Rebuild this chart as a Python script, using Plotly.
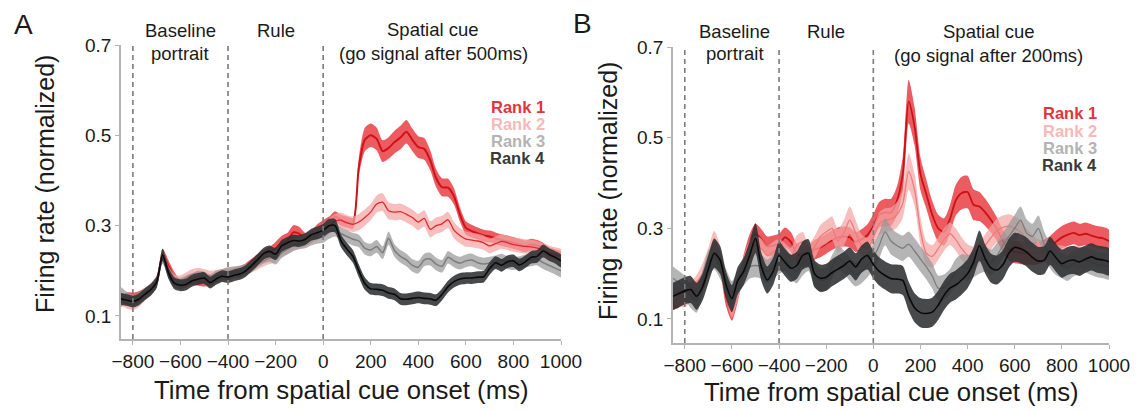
import plotly.graph_objects as go

FONT = "Liberation Sans, Arial, sans-serif"

# time axis (ms from spatial cue onset), 25 ms bins
time_ms = list(range(-850, 1001, 25))
x_ticks = [-800, -600, -400, -200, 0, 200, 400, 600, 800, 1000]
y_ticks = [0.1, 0.3, 0.5, 0.7]
y_ticktext = ["0.1", "0.3", "0.5", "0.7"]
epoch_bounds = [-800, -400, 0]
rank_names = ["Rank 1", "Rank 2", "Rank 3", "Rank 4"]

# ---------------- Panel A (go signal after 500 ms) ----------------
a_rank1 = [0.132, 0.140, 0.140, 0.143, 0.150, 0.160, 0.175, 0.235, 0.210, 0.185,
           0.170, 0.175, 0.180, 0.178, 0.176, 0.178, 0.185, 0.190, 0.190, 0.195,
           0.198, 0.205, 0.215, 0.225, 0.232, 0.240, 0.250, 0.262, 0.268, 0.285,
           0.282, 0.270, 0.275, 0.290, 0.300, 0.308, 0.320, 0.312, 0.308, 0.305,
           0.430, 0.490, 0.500, 0.492, 0.465, 0.472, 0.485, 0.495, 0.508, 0.490,
           0.474, 0.470, 0.445, 0.405, 0.385, 0.384, 0.365, 0.325, 0.295, 0.288,
           0.283, 0.278, 0.276, 0.272, 0.268, 0.265, 0.262, 0.258, 0.254, 0.258,
           0.256, 0.250, 0.240, 0.236, 0.232]
a_rank2 = [0.135, 0.128, 0.125, 0.132, 0.145, 0.160, 0.178, 0.232, 0.198, 0.180,
           0.178, 0.185, 0.192, 0.195, 0.192, 0.188, 0.190, 0.192, 0.194, 0.196,
           0.198, 0.202, 0.208, 0.215, 0.222, 0.228, 0.232, 0.245, 0.250, 0.258,
           0.262, 0.268, 0.275, 0.282, 0.290, 0.300, 0.310, 0.312, 0.306, 0.303,
           0.308, 0.318, 0.330, 0.348, 0.352, 0.333, 0.330, 0.331, 0.325, 0.318,
           0.308, 0.316, 0.292, 0.300, 0.304, 0.313, 0.290, 0.278, 0.270, 0.268,
           0.266, 0.262, 0.255, 0.260, 0.265, 0.262, 0.258, 0.256, 0.254, 0.253,
           0.250, 0.245, 0.240, 0.236, 0.232]
a_rank3 = [0.150, 0.140, 0.135, 0.140, 0.150, 0.160, 0.175, 0.228, 0.195, 0.175,
           0.172, 0.178, 0.183, 0.188, 0.186, 0.180, 0.188, 0.192, 0.196, 0.198,
           0.200, 0.203, 0.210, 0.220, 0.228, 0.232, 0.226, 0.240, 0.248, 0.256,
           0.260, 0.262, 0.268, 0.272, 0.275, 0.285, 0.290, 0.282, 0.276, 0.270,
           0.266, 0.250, 0.246, 0.254, 0.240, 0.272, 0.245, 0.232, 0.224, 0.212,
           0.208, 0.224, 0.226, 0.215, 0.210, 0.230, 0.222, 0.217, 0.222, 0.224,
           0.218, 0.215, 0.217, 0.220, 0.224, 0.218, 0.216, 0.218, 0.222, 0.224,
           0.226, 0.218, 0.212, 0.206, 0.200]
a_rank4 = [0.138, 0.135, 0.132, 0.137, 0.148, 0.158, 0.175, 0.235, 0.195, 0.172,
           0.168, 0.170, 0.178, 0.182, 0.184, 0.174, 0.182, 0.188, 0.186, 0.190,
           0.193, 0.200, 0.212, 0.225, 0.238, 0.243, 0.237, 0.255, 0.262, 0.267,
           0.266, 0.270, 0.280, 0.284, 0.290, 0.300, 0.300, 0.266, 0.248, 0.232,
           0.200, 0.172, 0.160, 0.159, 0.157, 0.151, 0.148, 0.138, 0.137, 0.139,
           0.141, 0.139, 0.138, 0.135, 0.148, 0.165, 0.176, 0.182, 0.184, 0.184,
           0.186, 0.187, 0.205, 0.218, 0.212, 0.220, 0.222, 0.213, 0.220, 0.230,
           0.232, 0.244, 0.236, 0.230, 0.222]

a_rank1_sem = [0.012, 0.012, 0.012, 0.012, 0.012, 0.012, 0.012, 0.014, 0.013, 0.012,
               0.011, 0.011, 0.011, 0.011, 0.011, 0.011, 0.011, 0.011, 0.011, 0.011,
               0.012, 0.012, 0.012, 0.012, 0.013, 0.013, 0.014, 0.015, 0.016, 0.016,
               0.015, 0.014, 0.013, 0.013, 0.012, 0.012, 0.012, 0.012, 0.012, 0.012,
               0.020, 0.026, 0.026, 0.025, 0.024, 0.024, 0.025, 0.026, 0.026, 0.025,
               0.024, 0.024, 0.022, 0.020, 0.020, 0.020, 0.018, 0.016, 0.015, 0.014,
               0.013, 0.013, 0.013, 0.013, 0.013, 0.013, 0.013, 0.013, 0.013, 0.013,
               0.012, 0.012, 0.012, 0.012, 0.012]
a_rank2_sem = [0.012, 0.012, 0.012, 0.012, 0.012, 0.012, 0.012, 0.013, 0.012, 0.012,
               0.012, 0.012, 0.012, 0.012, 0.012, 0.012, 0.012, 0.012, 0.012, 0.012,
               0.012, 0.012, 0.012, 0.012, 0.012, 0.013, 0.013, 0.013, 0.013, 0.013,
               0.013, 0.014, 0.014, 0.015, 0.015, 0.016, 0.016, 0.017, 0.017, 0.017,
               0.018, 0.018, 0.018, 0.019, 0.020, 0.019, 0.018, 0.018, 0.018, 0.018,
               0.018, 0.018, 0.018, 0.018, 0.018, 0.018, 0.018, 0.017, 0.017, 0.016,
               0.016, 0.016, 0.016, 0.016, 0.016, 0.016, 0.016, 0.016, 0.016, 0.016,
               0.016, 0.016, 0.016, 0.016, 0.016]
a_rank3_sem = [0.014, 0.013, 0.012, 0.012, 0.012, 0.012, 0.012, 0.013, 0.012, 0.012,
               0.012, 0.012, 0.012, 0.012, 0.012, 0.012, 0.012, 0.012, 0.012, 0.012,
               0.012, 0.012, 0.012, 0.012, 0.012, 0.012, 0.012, 0.012, 0.012, 0.012,
               0.012, 0.012, 0.012, 0.012, 0.013, 0.014, 0.014, 0.014, 0.014, 0.014,
               0.014, 0.014, 0.014, 0.014, 0.014, 0.015, 0.014, 0.014, 0.014, 0.014,
               0.014, 0.014, 0.014, 0.014, 0.014, 0.014, 0.014, 0.014, 0.014, 0.014,
               0.014, 0.014, 0.014, 0.014, 0.014, 0.014, 0.014, 0.014, 0.014, 0.014,
               0.014, 0.014, 0.014, 0.014, 0.014]
a_rank4_sem = [0.013, 0.013, 0.013, 0.013, 0.013, 0.013, 0.013, 0.014, 0.013, 0.013,
               0.013, 0.013, 0.013, 0.013, 0.013, 0.013, 0.013, 0.013, 0.013, 0.013,
               0.013, 0.013, 0.013, 0.013, 0.013, 0.013, 0.013, 0.013, 0.013, 0.013,
               0.013, 0.013, 0.013, 0.014, 0.014, 0.015, 0.015, 0.014, 0.014, 0.014,
               0.014, 0.014, 0.013, 0.013, 0.013, 0.013, 0.013, 0.013, 0.013, 0.013,
               0.013, 0.013, 0.013, 0.013, 0.013, 0.013, 0.013, 0.013, 0.013, 0.013,
               0.013, 0.013, 0.014, 0.014, 0.014, 0.014, 0.014, 0.014, 0.014, 0.014,
               0.014, 0.014, 0.014, 0.014, 0.014]

# ---------------- Panel B (go signal after 200 ms) ----------------
b_rank1 = [0.140, 0.145, 0.155, 0.162, 0.165, 0.182, 0.220, 0.258, 0.225, 0.150,
           0.118, 0.160, 0.220, 0.265, 0.288, 0.276, 0.260, 0.262, 0.266, 0.280,
           0.270, 0.245, 0.238, 0.240, 0.252, 0.258, 0.266, 0.274, 0.280, 0.282,
           0.280, 0.270, 0.276, 0.285, 0.305, 0.330, 0.335, 0.335, 0.360, 0.420,
           0.580, 0.525, 0.420, 0.375, 0.330, 0.300, 0.292, 0.320, 0.362, 0.378,
           0.380, 0.352, 0.348, 0.335, 0.318, 0.298, 0.272, 0.255, 0.248, 0.246,
           0.245, 0.244, 0.246, 0.250, 0.258, 0.270, 0.280, 0.286, 0.290, 0.285,
           0.288, 0.284, 0.280, 0.278, 0.272]
b_rank2 = [0.160, 0.150, 0.148, 0.160, 0.175, 0.200, 0.235, 0.270, 0.240, 0.170,
           0.125, 0.165, 0.215, 0.250, 0.262, 0.255, 0.240, 0.248, 0.255, 0.245,
           0.235, 0.262, 0.270, 0.245, 0.258, 0.282, 0.292, 0.300, 0.272, 0.290,
           0.318, 0.290, 0.262, 0.255, 0.280, 0.310, 0.318, 0.320, 0.330, 0.355,
           0.425, 0.385, 0.295, 0.245, 0.238, 0.255, 0.275, 0.288, 0.275, 0.255,
           0.240, 0.235, 0.245, 0.262, 0.280, 0.295, 0.302, 0.305, 0.300, 0.292,
           0.275, 0.262, 0.252, 0.248, 0.245, 0.240, 0.238, 0.235, 0.238, 0.236,
           0.232, 0.240, 0.235, 0.232, 0.228]
b_rank3 = [0.190, 0.180, 0.170, 0.150, 0.140, 0.180, 0.225, 0.235, 0.215, 0.185,
           0.158, 0.180, 0.200, 0.215, 0.218, 0.215, 0.205, 0.215, 0.225, 0.232,
           0.215, 0.205, 0.222, 0.232, 0.200, 0.185, 0.188, 0.215, 0.235, 0.225,
           0.210, 0.198, 0.205, 0.218, 0.235, 0.262, 0.292, 0.272, 0.262, 0.256,
           0.265, 0.250, 0.232, 0.215, 0.195, 0.168, 0.170, 0.182, 0.205, 0.215,
           0.212, 0.220, 0.228, 0.232, 0.225, 0.240, 0.262, 0.282, 0.300, 0.318,
           0.290, 0.282, 0.300, 0.265, 0.240, 0.225, 0.218, 0.212, 0.222, 0.228,
           0.230, 0.225, 0.220, 0.218, 0.215]
b_rank4 = [0.150, 0.156, 0.162, 0.165, 0.150, 0.170, 0.210, 0.245, 0.230, 0.175,
           0.145, 0.185, 0.205, 0.240, 0.278, 0.215, 0.186, 0.205, 0.240, 0.225,
           0.212, 0.218, 0.240, 0.245, 0.200, 0.190, 0.192, 0.202, 0.210, 0.218,
           0.228, 0.215, 0.232, 0.240, 0.220, 0.205, 0.196, 0.189, 0.188, 0.185,
           0.150, 0.125, 0.114, 0.112, 0.115, 0.130, 0.152, 0.168, 0.175, 0.186,
           0.200, 0.225, 0.262, 0.232, 0.212, 0.208, 0.220, 0.245, 0.258, 0.255,
           0.248, 0.236, 0.228, 0.230, 0.250, 0.235, 0.222, 0.228, 0.230, 0.226,
           0.232, 0.237, 0.232, 0.230, 0.226]

b_rank1_sem = [0.020, 0.020, 0.020, 0.020, 0.020, 0.021, 0.022, 0.022, 0.022, 0.022,
               0.022, 0.022, 0.022, 0.022, 0.022, 0.022, 0.022, 0.022, 0.022, 0.022,
               0.022, 0.022, 0.022, 0.022, 0.022, 0.022, 0.022, 0.022, 0.022, 0.022,
               0.022, 0.022, 0.022, 0.024, 0.026, 0.028, 0.030, 0.030, 0.032, 0.038,
               0.048, 0.042, 0.036, 0.032, 0.030, 0.030, 0.030, 0.031, 0.034, 0.036,
               0.036, 0.034, 0.032, 0.030, 0.028, 0.026, 0.025, 0.025, 0.025, 0.025,
               0.025, 0.025, 0.025, 0.025, 0.025, 0.025, 0.025, 0.025, 0.025, 0.025,
               0.025, 0.025, 0.025, 0.025, 0.025]
b_rank2_sem = [0.022, 0.022, 0.022, 0.022, 0.022, 0.022, 0.022, 0.024, 0.022, 0.022,
               0.022, 0.022, 0.022, 0.022, 0.022, 0.022, 0.022, 0.022, 0.022, 0.022,
               0.022, 0.022, 0.022, 0.022, 0.024, 0.025, 0.026, 0.026, 0.026, 0.028,
               0.030, 0.028, 0.025, 0.024, 0.024, 0.025, 0.026, 0.026, 0.028, 0.032,
               0.040, 0.036, 0.030, 0.026, 0.025, 0.025, 0.025, 0.025, 0.025, 0.025,
               0.025, 0.025, 0.025, 0.025, 0.026, 0.026, 0.026, 0.026, 0.026, 0.026,
               0.025, 0.024, 0.024, 0.024, 0.024, 0.024, 0.024, 0.024, 0.024, 0.024,
               0.024, 0.024, 0.024, 0.024, 0.024]
b_rank3_sem = [0.026, 0.026, 0.026, 0.026, 0.026, 0.026, 0.026, 0.026, 0.026, 0.026,
               0.026, 0.026, 0.026, 0.026, 0.026, 0.026, 0.026, 0.026, 0.026, 0.026,
               0.026, 0.026, 0.026, 0.026, 0.026, 0.026, 0.026, 0.026, 0.026, 0.026,
               0.026, 0.026, 0.026, 0.026, 0.027, 0.028, 0.030, 0.030, 0.028, 0.028,
               0.028, 0.028, 0.028, 0.028, 0.028, 0.028, 0.028, 0.028, 0.028, 0.028,
               0.028, 0.028, 0.028, 0.028, 0.028, 0.028, 0.028, 0.028, 0.030, 0.030,
               0.030, 0.028, 0.028, 0.028, 0.028, 0.028, 0.028, 0.028, 0.028, 0.028,
               0.028, 0.028, 0.028, 0.028, 0.028]
b_rank4_sem = [0.030, 0.030, 0.030, 0.030, 0.030, 0.030, 0.031, 0.032, 0.031, 0.030,
               0.030, 0.030, 0.030, 0.031, 0.033, 0.031, 0.030, 0.030, 0.031, 0.030,
               0.030, 0.030, 0.031, 0.031, 0.030, 0.030, 0.030, 0.030, 0.030, 0.030,
               0.030, 0.030, 0.030, 0.031, 0.031, 0.031, 0.031, 0.032, 0.032, 0.032,
               0.032, 0.032, 0.032, 0.032, 0.032, 0.032, 0.032, 0.032, 0.032, 0.032,
               0.032, 0.032, 0.033, 0.032, 0.032, 0.032, 0.032, 0.032, 0.032, 0.032,
               0.032, 0.032, 0.031, 0.031, 0.031, 0.031, 0.031, 0.031, 0.031, 0.031,
               0.030, 0.030, 0.030, 0.030, 0.030]

for arr in [a_rank1, a_rank2, a_rank3, a_rank4, a_rank1_sem, a_rank2_sem, a_rank3_sem, a_rank4_sem,
            b_rank1, b_rank2, b_rank3, b_rank4, b_rank1_sem, b_rank2_sem, b_rank3_sem, b_rank4_sem]:
    assert len(arr) == len(time_ms), len(arr)

# ---------------- styles ----------------
band_colors = ["rgba(229,45,50,0.78)", "rgba(244,165,165,0.72)",
               "rgba(150,150,150,0.70)", "rgba(45,48,50,0.88)"]
line_colors_a = ["#d01218", "#dd2a30", "#7c7c7c", "#0a0a0a"]
line_colors_b = ["#cc1016", "#ef7b7b", "#7c7c7c", "#0a0a0a"]
line_widths_a = [2.0, 1.3, 1.5, 1.6]
line_widths_b = [1.8, 1.3, 1.3, 1.6]
legend_colors = ["#e0363b", "#f6b9b9", "#b3b3b3", "#3a3a3a"]

W, H = 1138, 412
xdom_a = [121 / W, 561 / W]
xdom_b = [673 / W, 1109 / W]
ydom_a = [1 - 339 / H, 1 - 45 / H]
ydom_b = [1 - 343 / H, 1 - 47 / H]

fig = go.Figure()


def add_series(mean, sem, band, lcolor, lw, xa, ya):
    upper = [m + s for m, s in zip(mean, sem)]
    lower = [m - s for m, s in zip(mean, sem)]
    fig.add_trace(go.Scatter(
        x=time_ms + time_ms[::-1], y=upper + lower[::-1], fill="toself",
        fillcolor=band, mode="lines", line=dict(width=0, shape="spline", smoothing=0.7),
        hoverinfo="skip", showlegend=False, xaxis=xa, yaxis=ya))
    fig.add_trace(go.Scatter(
        x=time_ms, y=mean, mode="lines",
        line=dict(color=lcolor, width=lw, shape="spline", smoothing=0.7),
        showlegend=False, xaxis=xa, yaxis=ya))


a_means = [a_rank1, a_rank2, a_rank3, a_rank4]
a_sems = [a_rank1_sem, a_rank2_sem, a_rank3_sem, a_rank4_sem]
b_means = [b_rank1, b_rank2, b_rank3, b_rank4]
b_sems = [b_rank1_sem, b_rank2_sem, b_rank3_sem, b_rank4_sem]

for i in range(4):
    add_series(a_means[i], a_sems[i], band_colors[i], line_colors_a[i], line_widths_a[i], "x", "y")
for i in range(4):
    add_series(b_means[i], b_sems[i], band_colors[i], line_colors_b[i], line_widths_b[i], "x2", "y2")

axis_common = dict(showline=True, linecolor="#b3b3b3", linewidth=1.5, ticks="outside",
                   ticklen=4, tickwidth=1.2, tickcolor="#b3b3b3", showgrid=False,
                   zeroline=False, automargin=False,
                   tickfont=dict(size=19, color="#1a1a1a", family=FONT))

fig.update_layout(
    width=W, height=H, margin=dict(l=0, r=0, t=0, b=0, autoexpand=False),
    paper_bgcolor="white", plot_bgcolor="white",
    font=dict(family=FONT, color="#1a1a1a"),
    showlegend=False,
    xaxis=dict(domain=xdom_a, range=[-850, 1000], tickvals=x_ticks, anchor="y", **axis_common),
    yaxis=dict(domain=ydom_a, range=[0.049, 0.7], tickvals=y_ticks, ticktext=y_ticktext,
               anchor="x", **axis_common),
    xaxis2=dict(domain=xdom_b, range=[-850, 1000], tickvals=x_ticks, anchor="y2", **axis_common),
    yaxis2=dict(domain=ydom_b, range=[0.047, 0.7], tickvals=y_ticks, ticktext=y_ticktext,
                anchor="x2", **axis_common),
)

shapes = []
for xr, yr in [("x", "y domain"), ("x2", "y2 domain")]:
    for b in epoch_bounds:
        shapes.append(dict(type="line", xref=xr, yref=yr, x0=b, x1=b, y0=0, y1=1,
                           line=dict(color="#7a7a7a", width=1.6, dash="5px,4px"), layer="above"))
fig.update_layout(shapes=shapes)

ann = []


def text(x, y, s, size, xref="paper", color="#1a1a1a", bold=False, xanchor="center", angle=0):
    ann.append(dict(x=x, y=y, xref=xref, yref="paper", text=("<b>%s</b>" % s) if bold else s,
                    showarrow=False, xanchor=xanchor, yanchor="middle", textangle=angle,
                    font=dict(size=size, color=color, family=FONT)))


# panel letters
text(23 / W, 1 - 25 / H, "A", 28)
text(582 / W, 1 - 24 / H, "B", 28)

# epoch labels
text(-600, 1 - 31 / H, "Baseline", 18.5, xref="x")
text(-600, 1 - 53 / H, "portrait", 18.5, xref="x")
text(-200, 1 - 31 / H, "Rule", 18.5, xref="x")
text(462, 1 - 30 / H, "Spatial cue", 18.5, xref="x")
text(462, 1 - 53 / H, "(go signal after 500ms)", 18.5, xref="x")

text(-588, 1 - 32 / H, "Baseline", 18.5, xref="x2")
text(-588, 1 - 54 / H, "portrait", 18.5, xref="x2")
text(-200, 1 - 32 / H, "Rule", 18.5, xref="x2")
text(490, 1 - 32 / H, "Spatial cue", 18.5, xref="x2")
text(490, 1 - 55 / H, "(go signal after 200ms)", 18.5, xref="x2")

# rank labels
for i, yy in enumerate([107, 124, 141, 158]):
    text(942, 1 - yy / H, rank_names[i], 16.5, xref="x", color=legend_colors[i], bold=True, xanchor="right")
for i, yy in enumerate([113, 131, 148, 165]):
    text(958, 1 - yy / H, rank_names[i], 16.5, xref="x2", color=legend_colors[i], bold=True, xanchor="right")

# axis titles
text((xdom_a[0] + xdom_a[1]) / 2, 1 - 390 / H, "Time from spatial cue onset (ms)", 25.8)
text((xdom_b[0] + xdom_b[1]) / 2, 1 - 392 / H, "Time from spatial cue onset (ms)", 25.8)
text(45 / W, 1 - 184 / H, "Firing rate (normalized)", 25, angle=-90)
text(608 / W, 1 - 191 / H, "Firing rate (normalized)", 25, angle=-90)

fig.update_layout(annotations=ann)

fig.write_html("out.html", config={"displayModeBar": False},
               post_script="document.body.style.margin='0px';document.body.style.overflow='hidden';")
